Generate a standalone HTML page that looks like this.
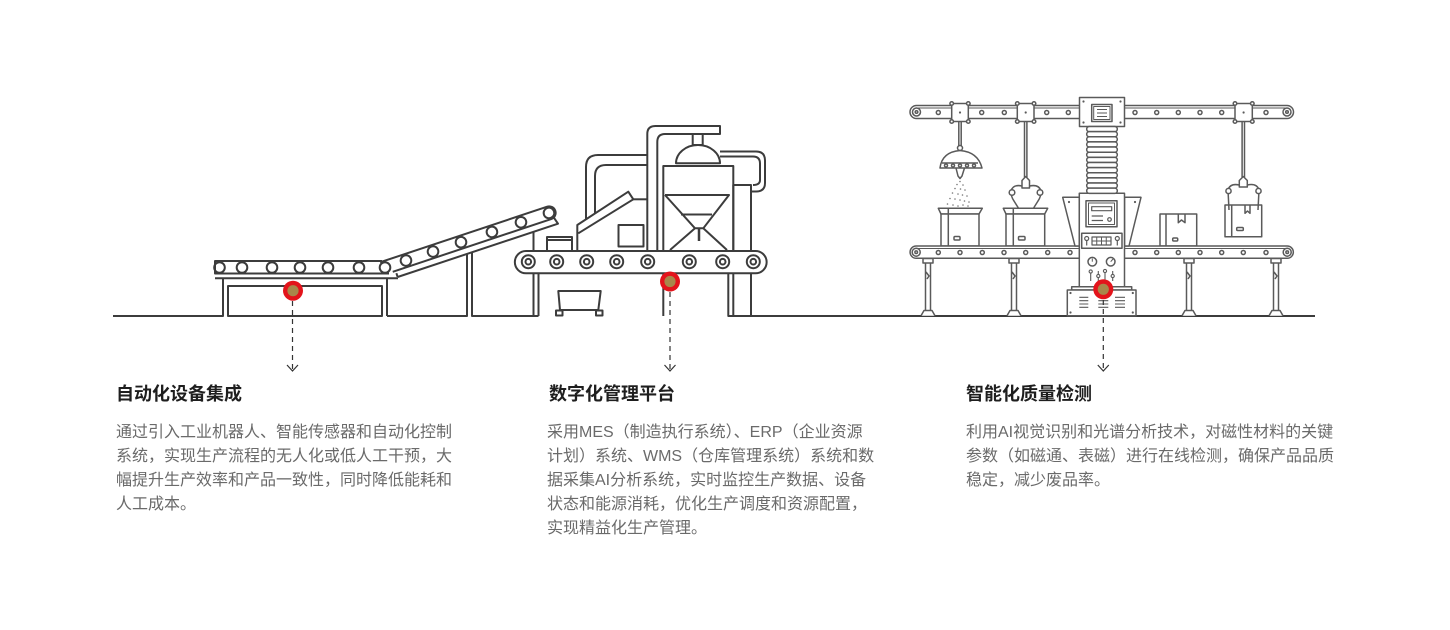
<!DOCTYPE html>
<html><head><meta charset="utf-8">
<style>
html,body{margin:0;padding:0;background:#fff;}
#wrap{position:relative;width:1450px;height:630px;overflow:hidden;background:#fff;font-family:"Liberation Sans","Noto Sans CJK SC",sans-serif;}
svg{position:absolute;left:0;top:0;}
.t{position:absolute;font-size:18px;font-weight:bold;color:#1e1e1e;line-height:24px;white-space:nowrap;font-family:"Noto Sans CJK SC","Liberation Sans",sans-serif;}
.b{position:absolute;font-size:16px;color:#6a6a6a;line-height:24px;white-space:nowrap;font-family:"Liberation Sans","Noto Sans CJK SC",sans-serif;}
</style></head><body><div id="wrap">
<svg width="1450" height="630" viewBox="0 0 1450 630" xmlns="http://www.w3.org/2000/svg">
<g fill="none" stroke="#3c3c3c" stroke-width="2" stroke-linejoin="round">
  <!-- LEFT: ground + leg -->
  <path d="M113 316 H223 V278"/>
  <!-- box under flat conveyor -->
  <path d="M228 316 V286 H382 V316 Z"/>
  <!-- panels under incline -->
  <path d="M387 316 V278.5 M387 316 H467 V254"/>
  <path d="M472 252.4 V316 H538.5 M533.5 316 V231.9"/>
  <!-- flat frame line -->
  <path d="M215 278.3 H398"/>
  <!-- flat belt -->
  <path d="M382 261 H215 V273.5 H389" fill="#fff"/>
  <g>
    <circle cx="219.5" cy="267.5" r="5.3"/><circle cx="242" cy="267.5" r="5.3"/><circle cx="272" cy="267.5" r="5.3"/><circle cx="300" cy="267.5" r="5.3"/><circle cx="328" cy="267.5" r="5.3"/><circle cx="359" cy="267.5" r="5.3"/><circle cx="385" cy="267.5" r="5.3"/>
  </g>
  <!-- incline -->
  <g transform="translate(385 267.5) rotate(-18.4)">
    <path d="M-3 -6.5 H173 A6.5 6.5 0 0 1 173 6.5 H6"/>
    <path d="M9 13 H178 L176 6"/>
    <path d="M9 13 L9 9"/>
    <circle cx="22.1" cy="0" r="5.3"/><circle cx="50.6" cy="0" r="5.3"/><circle cx="80.1" cy="0" r="5.3"/><circle cx="112.7" cy="0" r="5.3"/><circle cx="143.3" cy="0" r="5.3"/><circle cx="172.8" cy="0" r="5.3"/>
  </g>

  <!-- MIDDLE machine -->
  <!-- frame legs -->
  <path d="M538.5 273 V316"/>
  <path d="M663.3 273 V316"/>
  <path d="M728.3 273 V316 H1315"/>
  <!-- right tower -->
  <path d="M733.3 316 V185 H751 V316"/>
  <!-- right pipe -->
  <path d="M720 151.5 H756 Q765 151.5 765 160.5 V183 Q765 191.5 756 191.5 H751"/>
  <path d="M720 156.5 H753 Q760 156.5 760 163.5 V180 Q760 185 753 185"/>
  <!-- duct -->
  <path d="M586 219.5 V167 Q586 155 598 155 H647.3"/>
  <path d="M595 213.5 V176 Q595 165 606 165 H647.3"/>
  <!-- chute -->
  <path d="M577.3 251 V225 L628.3 191.7 L633.3 199.3 L578.3 233.3"/>
  <path d="M633.3 199.3 H647.3"/>
  <!-- small square -->
  <rect x="618.5" y="225" width="25" height="21.5"/>
  <!-- tray -->
  <rect x="547" y="237" width="25" height="14"/>
  <path d="M547 240 H572"/>
  <!-- tall pipe -->
  <path d="M647.3 251 V134 Q647.3 126 655.3 126 H720 V134 H665 Q657.3 134 657.3 142 V251"/>
  <!-- dome -->
  <path d="M676 163.3 A22 18.3 0 0 1 720 163.3 Z"/>
  <rect x="692.7" y="134" width="10" height="11"/>
  <!-- tank -->
  <rect x="663.3" y="166" width="70" height="85"/>
  <path d="M665 195 H729 L703.3 228.3 L727 250 M665 195 L695 228.3 L670 250 M681 214.5 H712 M695 228.3 H703.3"/>
  <path d="M699 228.3 V241" stroke-width="2.5"/>
  <!-- belt -->
  <path d="M526 251 H755.5 A11.15 11.15 0 0 1 755.5 273.3 H526 A11.15 11.15 0 0 1 526 251 Z" fill="#fff"/>
  <g>
    <circle cx="528.3" cy="261.7" r="6.5"/><circle cx="528.3" cy="261.7" r="2.8"/>
    <circle cx="556.7" cy="261.7" r="6.5"/><circle cx="556.7" cy="261.7" r="2.8"/>
    <circle cx="586.7" cy="261.7" r="6.5"/><circle cx="586.7" cy="261.7" r="2.8"/>
    <circle cx="616.7" cy="261.7" r="6.5"/><circle cx="616.7" cy="261.7" r="2.8"/>
    <circle cx="647.7" cy="261.7" r="6.5"/><circle cx="647.7" cy="261.7" r="2.8"/>
    <circle cx="689.3" cy="261.7" r="6.5"/><circle cx="689.3" cy="261.7" r="2.8"/>
    <circle cx="722.7" cy="261.7" r="6.5"/><circle cx="722.7" cy="261.7" r="2.8"/>
    <circle cx="753.3" cy="261.7" r="6.5"/><circle cx="753.3" cy="261.7" r="2.8"/>
  </g>
  <!-- cart -->
  <path d="M558.3 291 H600.7 L598.3 310 H560 Z"/>
  <rect x="556" y="310.5" width="6.5" height="5"/>
  <rect x="596" y="310.5" width="6.5" height="5"/>
</g>

<!-- RIGHT machine -->
<g fill="none" stroke="#5a5a5a" stroke-width="1.5" stroke-linejoin="round">
  <!-- top rail -->
  <path d="M916.5 105.5 H1287 A6.5 6.5 0 0 1 1287 118.5 H916.5 A6.5 6.5 0 0 1 916.5 105.5 Z" fill="#fff"/>
  <path d="M916.5 108 H1287" stroke-width="1"/>
  <circle cx="916.5" cy="112" r="4"/><circle cx="916.5" cy="112" r="1.3"/>
  <circle cx="1287" cy="112" r="4"/><circle cx="1287" cy="112" r="1.3"/>
  <g>
    <circle cx="938.3" cy="112.5" r="2"/><circle cx="981.7" cy="112.5" r="2"/><circle cx="1004.3" cy="112.5" r="2"/><circle cx="1046.7" cy="112.5" r="2"/><circle cx="1068.3" cy="112.5" r="2"/>
    <circle cx="1135" cy="112.5" r="2"/><circle cx="1156.7" cy="112.5" r="2"/><circle cx="1178.3" cy="112.5" r="2"/><circle cx="1200" cy="112.5" r="2"/><circle cx="1221.7" cy="112.5" r="2"/><circle cx="1266" cy="112.5" r="2"/>
  </g>
  <!-- rods -->
  <rect x="958.8" y="121" width="2.4" height="25" fill="#fff"/>
  <rect x="1024.5" y="121" width="2.4" height="56" fill="#fff"/>
  <rect x="1242.1" y="121" width="2.4" height="56" fill="#fff"/>
  <!-- blocks -->
  <g fill="#fff">
    <rect x="951.7" y="103.5" width="16.6" height="18"/>
    <rect x="1017.3" y="103.5" width="16.7" height="18"/>
    <rect x="1235" y="103.5" width="17.3" height="18"/>
  </g>
  <g fill="#fff">
    <circle cx="951.7" cy="103.5" r="1.8"/><circle cx="968.3" cy="103.5" r="1.8"/><circle cx="951.7" cy="121.5" r="1.8"/><circle cx="968.3" cy="121.5" r="1.8"/>
    <circle cx="1017.3" cy="103.5" r="1.8"/><circle cx="1034" cy="103.5" r="1.8"/><circle cx="1017.3" cy="121.5" r="1.8"/><circle cx="1034" cy="121.5" r="1.8"/>
    <circle cx="1235" cy="103.5" r="1.8"/><circle cx="1252.3" cy="103.5" r="1.8"/><circle cx="1235" cy="121.5" r="1.8"/><circle cx="1252.3" cy="121.5" r="1.8"/>
  </g>
  <g fill="#5a5a5a" stroke="none">
    <circle cx="960" cy="112.5" r="1.1"/><circle cx="1025.7" cy="112.5" r="1.1"/><circle cx="1243.6" cy="112.5" r="1.1"/>
  </g>
  <!-- dispenser -->
  <circle cx="960" cy="148" r="2.5" fill="#fff"/>
  <path d="M940 168 Q942 152 960 150.5 Q978 152 982 168 Z" fill="#fff"/>
  <path d="M942 163 H978"/>
  <g fill="#fff"><circle cx="946" cy="165.5" r="1.5"/><circle cx="953" cy="165.5" r="1.5"/><circle cx="960" cy="165.5" r="1.5"/><circle cx="967" cy="165.5" r="1.5"/><circle cx="974" cy="165.5" r="1.5"/></g>
  <path d="M956 168 L958 176 L960 178.5 L962 176 L964.5 168"/>
  <g fill="#777" stroke="none">
    <circle cx="960" cy="181.5" r="0.8"/><circle cx="957" cy="184.5" r="0.8"/><circle cx="963" cy="185" r="0.8"/><circle cx="955" cy="188.5" r="0.8"/><circle cx="960.5" cy="189" r="0.8"/><circle cx="965" cy="190" r="0.8"/><circle cx="952.5" cy="193" r="0.8"/><circle cx="958" cy="194" r="0.8"/><circle cx="962.5" cy="195" r="0.8"/><circle cx="967" cy="196" r="0.8"/><circle cx="950" cy="198.5" r="0.8"/><circle cx="955" cy="199" r="0.8"/><circle cx="960" cy="200" r="0.8"/><circle cx="964.5" cy="201" r="0.8"/><circle cx="969" cy="202" r="0.8"/><circle cx="947.5" cy="204" r="0.8"/><circle cx="953" cy="205" r="0.8"/><circle cx="958" cy="206" r="0.8"/><circle cx="963" cy="205" r="0.8"/><circle cx="968" cy="206" r="0.8"/>
  </g>
  <!-- gripper 1 -->
  <path d="M1022 188 V180.5 L1025.7 176.5 L1029.5 180.5 V188 Z" fill="#fff"/>
  <path d="M1022 186 Q1013 184 1011 191 Q1011 197 1014 201 L1019 209"/>
  <path d="M1029.5 186 Q1039 184 1041 191 Q1041 197 1038 201 L1033 209"/>
  <circle cx="1012" cy="192.5" r="2.8" fill="#fff"/><circle cx="1040" cy="192.5" r="2.8" fill="#fff"/>
  <!-- boxes -->
  <path d="M938.3 208.3 H982.3 L979 214 H941 Z" fill="#fff"/>
  <rect x="941" y="214" width="38" height="32" fill="#fff"/>
  <path d="M948.3 208.3 V246"/>
  <rect x="954" y="236.5" width="6" height="3.5" rx="1"/>
  <path d="M1003.3 208.3 H1047.7 L1044.7 214 H1006 Z" fill="#fff"/>
  <rect x="1006" y="214" width="38.7" height="32" fill="#fff"/>
  <path d="M1013.3 208.3 V246"/>
  <rect x="1018.5" y="236.5" width="6.5" height="3.5" rx="1"/>
  <rect x="1160" y="214" width="36.7" height="32" fill="#fff"/>
  <path d="M1166 214 V246"/>
  <path d="M1178.3 214 V222.7 L1181.5 220 L1185 222.7 V214"/>
  <rect x="1172.7" y="238" width="5" height="3" rx="1"/>
  <!-- gripper 2 + held box -->
  <rect x="1225" y="205" width="36.7" height="31.7" fill="#fff"/>
  <path d="M1231.7 205 V236.7"/>
  <path d="M1245 205 V213.3 L1247.5 211 L1250 213.3 V205"/>
  <rect x="1236.7" y="227.5" width="6.6" height="3" rx="1"/>
  <path d="M1239.3 187 V180.5 L1243.3 176.5 L1247.3 180.5 V187 Z" fill="#fff"/>
  <path d="M1239.3 185 Q1230 183 1228 190 L1229 210"/>
  <path d="M1247.3 185 Q1257 183 1259 190 L1258 210"/>
  <circle cx="1228.5" cy="191" r="2.6" fill="#fff"/><circle cx="1258.5" cy="191" r="2.6" fill="#fff"/>
  <!-- lower conveyor -->
  <path d="M916.2 246 H1287.2 A6.15 6.15 0 0 1 1287.2 258.3 H916.2 A6.15 6.15 0 0 1 916.2 246 Z" fill="#fff"/>
  <path d="M916.2 248.5 H1287" stroke-width="1"/>
  <circle cx="916.2" cy="252.2" r="4"/><circle cx="916.2" cy="252.2" r="1.3"/>
  <circle cx="1287.2" cy="252.2" r="4"/><circle cx="1287.2" cy="252.2" r="1.3"/>
  <g>
    <circle cx="938.3" cy="252.5" r="2"/><circle cx="960" cy="252.5" r="2"/><circle cx="982.3" cy="252.5" r="2"/><circle cx="1004" cy="252.5" r="2"/><circle cx="1025.7" cy="252.5" r="2"/><circle cx="1047.7" cy="252.5" r="2"/><circle cx="1070" cy="252.5" r="2"/>
    <circle cx="1135" cy="252.5" r="2"/><circle cx="1156.7" cy="252.5" r="2"/><circle cx="1178.3" cy="252.5" r="2"/><circle cx="1200" cy="252.5" r="2"/><circle cx="1221.7" cy="252.5" r="2"/><circle cx="1243.3" cy="252.5" r="2"/><circle cx="1266" cy="252.5" r="2"/>
  </g>
  <!-- legs -->
  <g fill="#fff">
    <rect x="923" y="258.5" width="10" height="4.5"/><path d="M925.5 263 V310.5 M930.5 263 V310.5 M926 272 L929 276 L927 279"/><path d="M921 315.7 L924 310.5 H932 L935 315.7"/>
    <rect x="1009" y="258.5" width="10" height="4.5"/><path d="M1011.5 263 V310.5 M1016.5 263 V310.5 M1012 272 L1015 276 L1013 279"/><path d="M1007 315.7 L1010 310.5 H1018 L1021 315.7"/>
    <rect x="1184" y="258.5" width="10" height="4.5"/><path d="M1186.5 263 V310.5 M1191.5 263 V310.5 M1187 272 L1190 276 L1188 279"/><path d="M1182 315.7 L1185 310.5 H1193 L1196 315.7"/>
    <rect x="1271" y="258.5" width="10" height="4.5"/><path d="M1273.5 263 V310.5 M1278.5 263 V310.5 M1274 272 L1277 276 L1275 279"/><path d="M1269 315.7 L1272 310.5 H1280 L1283 315.7"/>
  </g>
  <!-- central column -->
  <path d="M1062.7 197.3 H1079.3 V246 H1075 Z" fill="#fff"/>
  <path d="M1141 197.3 H1124.5 V246 H1129 Z" fill="#fff"/>
  <rect x="1079.3" y="193.3" width="45.2" height="94" fill="#fff"/>
  <rect x="1079.5" y="97.5" width="45" height="29" fill="#fff"/>
  <rect x="1091.7" y="104.5" width="20.3" height="17"/>
  <rect x="1093.7" y="106.5" width="16.3" height="13" stroke-width="1"/>
  <path d="M1097 109.5 H1107 M1097 113 H1107 M1097 116.5 H1107" stroke-width="1"/>
  <g fill="#fff">
    <rect x="1086.7" y="126.5" width="30.6" height="5.14" rx="2.5"/><rect x="1086.7" y="131.64" width="30.6" height="5.14" rx="2.5"/><rect x="1086.7" y="136.78" width="30.6" height="5.14" rx="2.5"/><rect x="1086.7" y="141.92" width="30.6" height="5.14" rx="2.5"/><rect x="1086.7" y="147.06" width="30.6" height="5.14" rx="2.5"/><rect x="1086.7" y="152.2" width="30.6" height="5.14" rx="2.5"/><rect x="1086.7" y="157.34" width="30.6" height="5.14" rx="2.5"/><rect x="1086.7" y="162.48" width="30.6" height="5.14" rx="2.5"/><rect x="1086.7" y="167.62" width="30.6" height="5.14" rx="2.5"/><rect x="1086.7" y="172.76" width="30.6" height="5.14" rx="2.5"/><rect x="1086.7" y="177.9" width="30.6" height="5.14" rx="2.5"/><rect x="1086.7" y="183.04" width="30.6" height="5.14" rx="2.5"/><rect x="1086.7" y="188.18" width="30.6" height="5.14" rx="2.5"/>
  </g>
  <!-- screen -->
  <rect x="1086" y="200.7" width="31" height="26"/>
  <rect x="1088.5" y="203" width="26" height="21.5" stroke-width="1"/>
  <rect x="1091.7" y="206.7" width="20" height="4" stroke-width="1.2"/>
  <path d="M1091.7 216 H1103 M1091.7 220.5 H1103" stroke-width="1.2"/>
  <circle cx="1109.5" cy="219.5" r="1.8" stroke-width="1.2"/>
  <!-- keypad -->
  <rect x="1081.7" y="233.3" width="40.3" height="15"/>
  <circle cx="1086.7" cy="238.5" r="2" stroke-width="1.2"/><path d="M1086.7 240.5 V245.5" stroke-width="1.2"/>
  <circle cx="1117.3" cy="238.5" r="2" stroke-width="1.2"/><path d="M1117.3 240.5 V245.5" stroke-width="1.2"/>
  <rect x="1092" y="237" width="19" height="8" stroke-width="1.2"/>
  <path d="M1096.75 237 V245 M1101.5 237 V245 M1106.25 237 V245 M1092 241 H1111" stroke-width="1"/>
  <!-- dials -->
  <circle cx="1092.3" cy="261.7" r="4.3"/><path d="M1092.3 261.7 V258.5" stroke-width="1"/>
  <circle cx="1110.7" cy="261.7" r="4.3"/><path d="M1110.7 261.7 L1113 259" stroke-width="1"/>
  <!-- switches -->
  <path d="M1090.7 271 V281 M1098.3 271 V281 M1105 269 V281 M1112.7 271 V281" stroke-width="1.1"/>
  <g fill="#fff" stroke-width="1.1"><circle cx="1090.7" cy="271.5" r="1.6"/><circle cx="1098.3" cy="276" r="1.6"/><circle cx="1105" cy="271" r="1.6"/><circle cx="1112.7" cy="276" r="1.6"/></g>
  <!-- base -->
  <rect x="1071.7" y="286.7" width="60" height="3.3" fill="#fff"/>
  <rect x="1067.3" y="290" width="68.7" height="25.7" fill="#fff"/>
  <path d="M1079.3 297.3 H1088.3 M1079.3 300.7 H1088.3 M1079.3 304 H1088.3 M1079.3 307.3 H1088.3 M1098.3 297.3 H1108.3 M1098.3 300.7 H1108.3 M1098.3 304 H1108.3 M1098.3 307.3 H1108.3 M1115 297.3 H1125 M1115 300.7 H1125 M1115 304 H1125 M1115 307.3 H1125" stroke-width="1.1"/>
  <g fill="#5a5a5a" stroke="none">
    <circle cx="1083.5" cy="101.5" r="1.1"/><circle cx="1120.5" cy="101.5" r="1.1"/><circle cx="1083.5" cy="122.5" r="1.1"/><circle cx="1120.5" cy="122.5" r="1.1"/>
    <circle cx="1069" cy="202" r="1.1"/><circle cx="1135" cy="202" r="1.1"/>
    <circle cx="1070.5" cy="293" r="1.1"/><circle cx="1132.8" cy="293" r="1.1"/><circle cx="1070.5" cy="312.5" r="1.1"/><circle cx="1132.8" cy="312.5" r="1.1"/>
  </g>
</g>

<!-- dashed connectors -->
<g stroke="#333" stroke-width="1.2" fill="none">
  <path d="M292.5 301 V370" stroke-dasharray="5 4"/>
  <path d="M287 365 L292.5 371 L298 365"/>
  <path d="M670 292 V370" stroke-dasharray="5 4"/>
  <path d="M664.5 365 L670 371 L675.5 365"/>
  <path d="M1103.3 300 V370" stroke-dasharray="5 4"/>
  <path d="M1097.8 365 L1103.3 371 L1108.8 365"/>
</g>
<!-- dots -->
<g>
  <circle cx="293" cy="290.7" r="10" fill="#e3141b"/><circle cx="293" cy="290.7" r="5.6" fill="#a8874a"/>
  <circle cx="670" cy="281.5" r="10" fill="#e3141b"/><circle cx="670" cy="281.5" r="5.6" fill="#a8874a"/>
  <circle cx="1103.3" cy="289.3" r="10" fill="#e3141b"/><circle cx="1103.3" cy="289.3" r="5.6" fill="#a8874a"/>
</g>
</svg>

<div class="t" style="left:116px;top:381px;">自动化设备集成</div>
<div class="b" style="left:116px;top:421px;">通过引入工业机器人、智能传感器和自动化控制<br>系统，实现生产流程的无人化或低人工干预，大<br>幅提升生产效率和产品一致性，同时降低能耗和<br>人工成本。</div>

<div class="t" style="left:549px;top:381px;">数字化管理平台</div>
<div class="b" style="left:547px;top:421px;">采用MES（制造执行系统）、ERP（企业资源<br>计划）系统、WMS（仓库管理系统）系统和数<br>据采集AI分析系统，实时监控生产数据、设备<br>状态和能源消耗，优化生产调度和资源配置，<br>实现精益化生产管理。</div>

<div class="t" style="left:966px;top:381px;">智能化质量检测</div>
<div class="b" style="left:966px;top:421px;">利用AI视觉识别和光谱分析技术，对磁性材料的关键<br>参数（如磁通、表磁）进行在线检测，确保产品品质<br>稳定，减少废品率。</div>
</div></body></html>
